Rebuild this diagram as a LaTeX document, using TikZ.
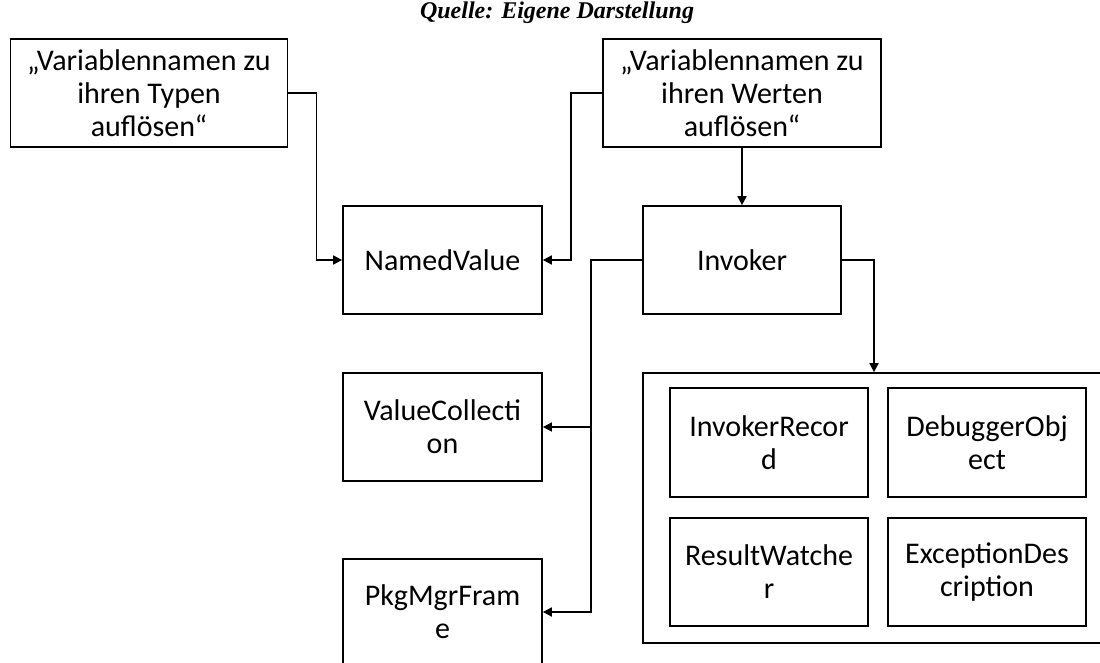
\documentclass[tikz,border=0pt]{standalone}
\usepackage{fontspec}
\setmainfont{Carlito}
\newfontfamily\titlefont{Liberation Serif}
\usetikzlibrary{arrows.meta}
\begin{document}
\begin{tikzpicture}[x=1pt,y=-1pt,
  line width=1.7pt,
  box/.style={draw, align=center, inner sep=0pt, minimum width=199pt, minimum height=108pt,
    font=\fontsize{30}{33}\selectfont},
  arr/.style={-{Triangle[length=9pt,width=9pt]}}]
\clip (0,0) rectangle (1100,663);
\fill[white] (0,0) rectangle (1100,663);
\node[font=\titlefont\fontsize{24}{26}\selectfont\bfseries\itshape] (title) at (557,13) {Quelle: Eigene Darstellung};
\node[box, minimum width=277pt] (A) at (149,93) {„Variablennamen zu\\ihren Typen\\auflösen“};
\node[box, minimum width=278pt] (B) at (742,93) {„Variablennamen zu\\ihren Werten\\auflösen“};
\node[box] (NV) at (442.5,260) {NamedValue};
\node[box, minimum width=198pt] (INV) at (742,260) {Invoker};
\node[box] (VC) at (442.5,427) {ValueCollecti\\on};
\node[box, minimum height=106pt] (PMF) at (442.5,612) {PkgMgrFram\\e};
\node[draw, minimum width=462pt, minimum height=270pt, inner sep=0pt] (cont) at (874,508) {};
\node[box, minimum width=198pt, minimum height=109pt] (IR) at (769,442.5) {InvokerRecor\\d};
\node[box, minimum width=198pt, minimum height=109pt] (DO) at (987,442.5) {DebuggerObj\\ect};
\node[box, minimum width=198pt] (RW) at (769,572) {ResultWatche\\r};
\node[box, minimum width=198pt] (ED) at (987,572) {ExceptionDes\\cription};
\draw[arr] (A.east) -- ++(28,0) |- (NV.west);
\draw[arr] (B.west) -- ++(-31,0) |- (NV.east);
\draw[arr] (B.south) -- (INV.north);
\draw[arr] (INV.west) -- ++(-51,0) |- (VC.east);
\draw[arr] (INV.west) -- ++(-51,0) |- (PMF.east);
\draw[arr] (INV.east) -| (cont.north);
\end{tikzpicture}
\end{document}
